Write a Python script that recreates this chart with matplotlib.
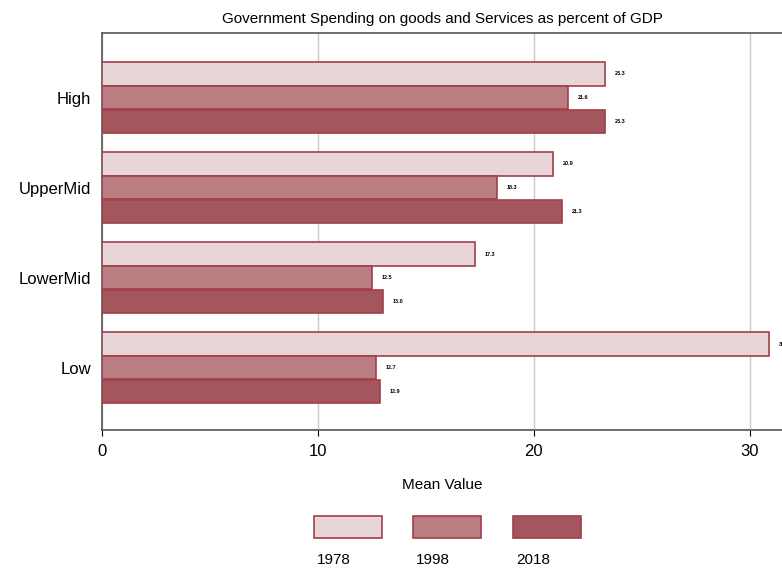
import matplotlib.pyplot as plt
from matplotlib.patches import Rectangle
import numpy as np

plt.rcParams['font.family'] = ['Liberation Sans', 'DejaVu Sans']

groups = ['Low', 'LowerMid', 'UpperMid', 'High']
years = ['1978', '1998', '2018']
v1978 = [30.9, 17.3, 20.9, 23.3]
v1998 = [12.7, 12.5, 18.3, 21.6]
v2018 = [12.9, 13.0, 21.3, 23.3]

fills = ['#e8d5d7', '#b97d82', '#a4565e']
edge = '#a33e4a'


def main():
    fig = plt.figure(figsize=(7.82, 5.69), dpi=100)
    ax = fig.add_axes([0.1304, 0.2443, 0.8696, 0.6977])

    y = np.arange(len(groups))
    h = 0.265
    series = [v1978, v1998, v2018]
    for i, vals in enumerate(series):
        pos = y + h * (1 - i)
        ax.barh(pos, vals, height=h * 0.97, color=fills[i], edgecolor=edge,
                linewidth=1.2, zorder=3)
        for p, v in zip(pos, vals):
            ax.text(v + 0.45, p, '%.1f' % v, fontsize=4, fontweight='bold',
                    va='center', ha='left', zorder=4)

    ax.set_xlim(0, 31.5)
    ax.set_ylim(-0.69, 3.72)
    ax.set_yticks(y)
    ax.set_yticklabels(groups, fontsize=12)
    ax.set_xticks([0, 10, 20, 30])
    ax.tick_params(axis='x', labelsize=12, length=4, pad=6)
    ax.tick_params(axis='y', length=0, pad=8)
    ax.grid(axis='x', color='#c8c8c8', linewidth=1, zorder=0)
    for s in ['left', 'top', 'bottom']:
        ax.spines[s].set_color('#555555')
        ax.spines[s].set_linewidth(1.2)
    ax.spines['right'].set_visible(False)
    ax.set_title('Government Spending on goods and Services as percent of GDP',
                 fontsize=11, pad=7)
    ax.set_xlabel('Mean Value', fontsize=11, labelpad=14)

    # legend with labels under the swatches
    xs = [314, 413, 513]
    for i, yr in enumerate(years):
        fig.add_artist(Rectangle((xs[i] / 782, 1 - 538 / 569), 68 / 782, 22 / 569,
                                 facecolor=fills[i], edgecolor=edge, linewidth=1.2,
                                 transform=fig.transFigure))
        fig.text((xs[i] + 20) / 782, 1 - 560 / 569, yr, fontsize=11,
                 ha='center', va='center')

    fig.savefig('out.png', dpi=100)


if __name__ == '__main__':
    main()
